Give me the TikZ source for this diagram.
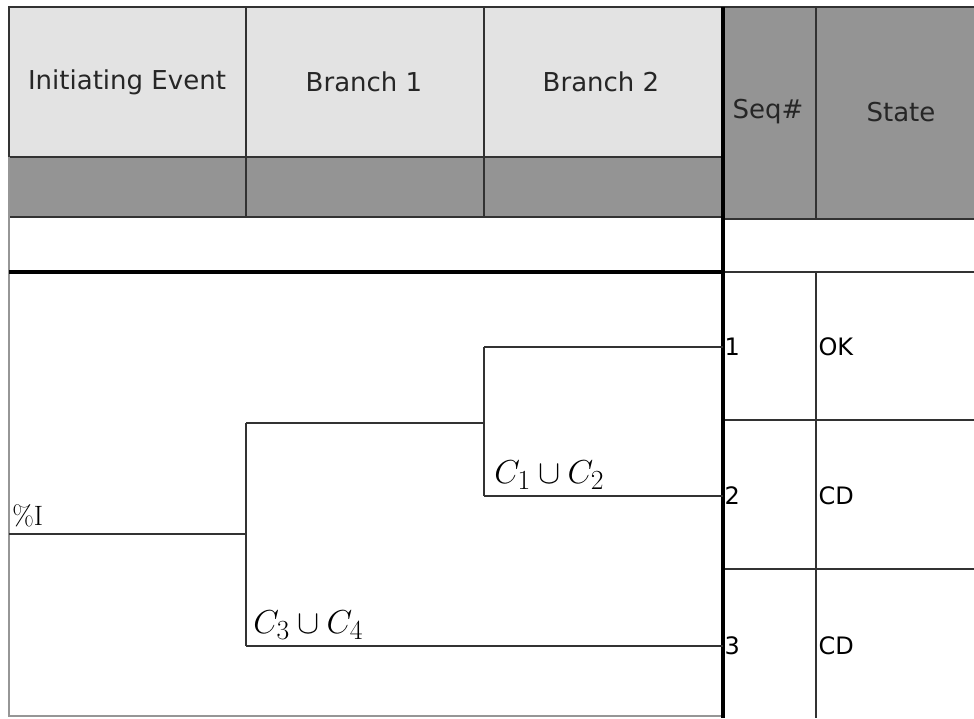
\documentclass[tikz,border=0pt]{standalone}
\usepackage{fontspec}
\usepackage{amsmath}
\usetikzlibrary{calc}
\newfontfamily\tablefont{DejaVu Sans}
\definecolor{headlight}{RGB}{227,227,227}
\definecolor{headdark}{RGB}{148,148,148}
\definecolor{rulegray}{RGB}{50,50,50}
\definecolor{edgegray}{RGB}{150,150,150}

\begin{document}
\begin{tikzpicture}[x=0.75pt, y=-0.75pt,
		rule/.style={draw=rulegray, line width=1.1pt},
		thickrule/.style={draw=black, line width=2.3pt},
		headtext/.style={font=\tablefont\fontsize{19.5}{22}\selectfont, text=black!85, inner sep=0pt},
		celltext/.style={font=\tablefont\fontsize{18}{21}\selectfont, anchor=west, inner sep=1pt},
		branchlabel/.style={font=\fontsize{30}{34}\selectfont, anchor=base west, inner sep=0pt}]
		% Page
		\useasboundingbox (0,0) rectangle (974,718);
		
		% Coordinates
		\coordinate (IE_0) at (9, 534);
		\coordinate (IE_1) at (246, 534);
		
		\coordinate (B1_up) at (246, 423);
		\coordinate (B1_dn) at (246, 646);
		
		\coordinate (B2_mid) at (484, 423);
		\coordinate (B2_up) at (484, 347);
		\coordinate (B2_dn) at (484, 496);
		
		\coordinate (S_1) at (723, 347);
		\coordinate (S_2) at (723, 496);
		\coordinate (S_3) at (723, 646);
		
		% Header cells
		\foreach \xa/\xb in {9/246, 246/484, 484/723}
			{
			\filldraw[rule, fill=headlight] (\xa,7) rectangle (\xb,157);
			\filldraw[rule, fill=headdark] (\xa,157) rectangle (\xb,217);
			}
		\filldraw[rule, fill=headdark] (723,7) rectangle (816,219);
		\filldraw[rule, fill=headdark] (816,7) rectangle (990,219);
		
		\node[headtext] (ie) at (127, 82) {Initiating Event};
		\node[headtext] (br1) at (364, 82) {Branch 1};
		\node[headtext] (br2) at (601, 82) {Branch 2};
		\node[headtext] (seq) at (768, 112) {Seq\#};
		\node[headtext] (state) at (901, 112) {State};
		
		% Table lines
		\draw[rule] (723,272) -- (974,272);
		\draw[rule] (816,272) -- (816,718);
		\draw[rule] (723,420) -- (974,420);
		\draw[rule] (723,569) -- (974,569);
		\draw[draw=edgegray, line width=1pt] (9,157) -- (9,716) -- (723,716);
		\draw[thickrule] (9,272) -- (723,272);
		\draw[thickrule] (723,7) -- (723,718);
		
		% Event tree
		\draw[rule] (IE_0) -- (IE_1);
		\draw[rule] (B1_up) -- (B1_dn);
		\draw[rule] (B1_up) -- (B2_mid);
		\draw[rule] (B2_up) -- (B2_dn);
		\draw[rule] (B2_up) -- (S_1);
		\draw[rule] (B2_dn) -- (S_2);
		\draw[rule] (B1_dn) -- (S_3);
		
		\node[font=\fontsize{21}{24}\selectfont, anchor=south west, inner sep=0pt] (ielabel) at (12, 527) {\%I};
		\node[branchlabel] (cut12) at (494, 483) {$C_1 \cup C_2$};
		\node[branchlabel] (cut34) at (253, 633) {$C_3 \cup C_4$};
		
		% Sequences
		\foreach \s/\stext in {1/OK, 2/CD, 3/CD}
			{
			\node[celltext] (seq\s) at (S_\s) {\s};
			\node[celltext] (state\s) at ($(S_\s)+(94,0)$) {\stext};
			}
	\end{tikzpicture}
\end{document}
